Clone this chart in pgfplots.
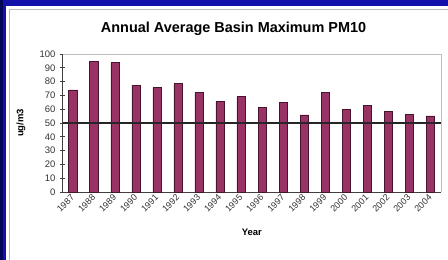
\documentclass[border=0pt]{standalone}
\usepackage{fontspec}
\setmainfont{Liberation Sans}
\usepackage{pgfplots}
\pgfplotsset{compat=1.18}
\definecolor{bgblue}{RGB}{18,18,170}
\definecolor{bgdark}{RGB}{5,5,90}
\definecolor{barfill}{RGB}{153,51,102}
\definecolor{baredge}{RGB}{70,20,45}
\definecolor{frame}{RGB}{190,190,190}
\begin{document}
\begin{tikzpicture}
\useasboundingbox (0,0) rectangle (448bp,260bp);
\fill[bgblue] (0,0) rectangle (448bp,260bp);
\fill[bgdark] (0,0) rectangle (3bp,260bp);
\fill[white] (6bp,0) rectangle (448bp,254bp);
\draw[frame, line width=1.2bp] (9.5bp,0) -- (9.5bp,250.5bp) -- (448bp,250.5bp);
\begin{axis}[
  at={(62.5bp,68bp)}, anchor=south west,
  scale only axis, width=378.5bp, height=138bp,
  xmin=-0.5, xmax=17.5, ymin=0, ymax=100,
  axis x line=bottom, axis y line=left,
  axis line style={draw=black!75, line width=0.8bp, -},
  ytick={0,10,...,100},
  xtick={0,...,17},
  xticklabels={1987,1988,1989,1990,1991,1992,1993,1994,1995,1996,1997,1998,1999,2000,2001,2002,2003,2004},
  x tick style={draw=none},
  y tick style={draw=black!75, line width=0.8bp},
  ytick align=center, major tick length=5bp,
  extra x ticks={-0.5,0.5,...,17.5},
  extra x tick labels={},
  extra x tick style={tick align=center, major tick length=5bp, tick style={draw=black!75, line width=0.8bp}},
  /pgf/number format/assume math mode=true,
  yticklabel style={font=\fontsize{9.5}{10}\selectfont, text=black!80, xshift=-1bp},
  xticklabel style={font=\fontsize{9}{10}\selectfont, text=black!80, rotate=45, anchor=east, xshift=2bp, yshift=-1bp},
  xlabel={Year},
  ylabel={ug/m3},
  xlabel style={font=\bfseries\fontsize{9.5}{10}\selectfont, at={(axis description cs:0.5,-0.29)}, anchor=center},
  ylabel style={font=\bfseries\fontsize{9.5}{10}\selectfont, at={(axis description cs:-0.11,0.5)}, anchor=center, rotate=0},
  clip=false,
]
\node[font=\bfseries\fontsize{14.5}{15}\selectfont, anchor=center] at (axis description cs:0.452,1.181) {Annual Average Basin Maximum PM10};
\draw[frame, line width=0.8bp] (rel axis cs:0,1) -- (rel axis cs:1,1) -- (rel axis cs:1,0);
\addplot[ybar, bar width=8.5bp, fill=barfill, draw=baredge, line width=0.6bp]
  coordinates {(0,74) (1,94.5) (2,93.8) (3,77.5) (4,75.8) (5,78.5) (6,72) (7,65.6) (8,69) (9,61.3) (10,64.8) (11,55.8) (12,72.2) (13,60) (14,62.8) (15,58.2) (16,56.2) (17,55.2)};
\addplot[black!85, line width=1.1bp] coordinates {(-0.5,50) (17.5,50)};
\end{axis}
\end{tikzpicture}
\end{document}
